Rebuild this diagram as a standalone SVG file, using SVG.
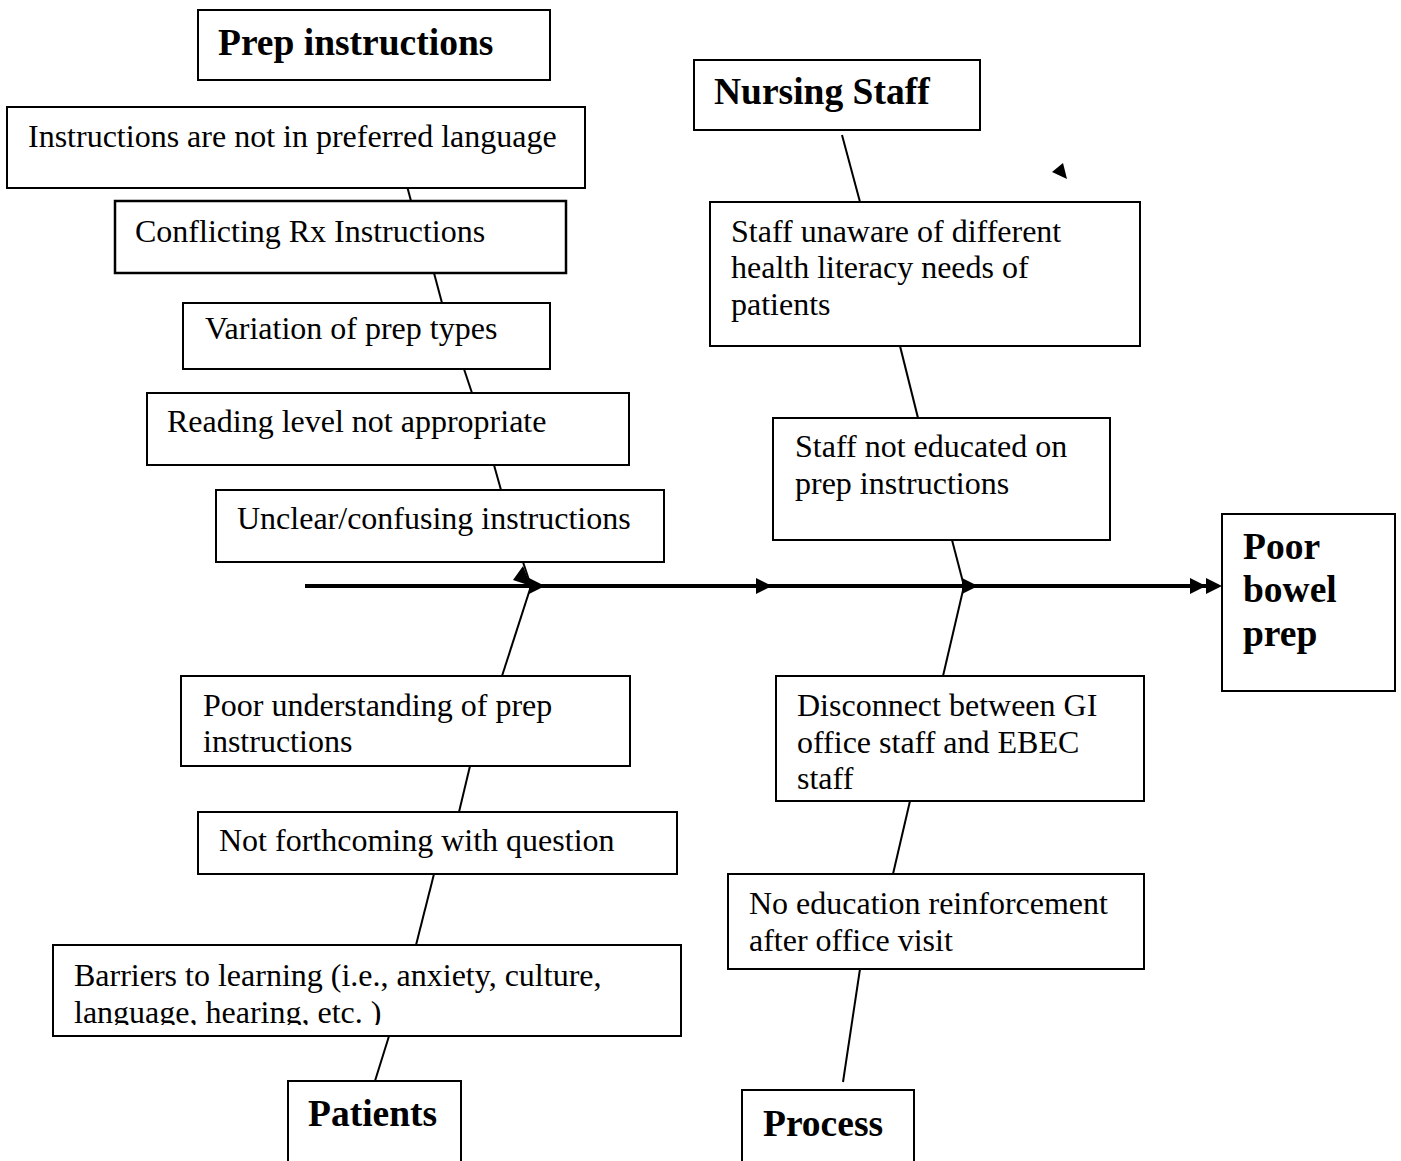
<svg xmlns="http://www.w3.org/2000/svg" width="1401" height="1161" viewBox="0 0 1401 1161">
<style>
.box{fill:#fff;stroke:#000;stroke-width:2}
.t{font-family:"Liberation Serif","Times New Roman",serif;font-size:32px;fill:#000}
.h{font-family:"Liberation Serif","Times New Roman",serif;font-size:37.5px;font-weight:bold;fill:#000}
.ln{stroke:#000;stroke-width:2;fill:none}
.spine{stroke:#000;stroke-width:4;fill:none}
</style>
<defs>
<clipPath id="clipBarriers"><rect x="53" y="945" width="628" height="80"/></clipPath>
</defs>
<rect width="1401" height="1161" fill="#fff"/>
<g id="connectors">
<line class="spine" x1="305" y1="586" x2="1207" y2="586"/>
<polygon points="529,578 545,586 529,594"/>
<polygon points="756,578 772,586 756,594"/>
<polygon points="962,578 978,586 962,594"/>
<polygon points="1190,578 1206,586 1190,594"/>
<polygon points="1206,578 1222,586 1206,594"/>
<line class="ln" x1="407" y1="186" x2="411" y2="201"/>
<line class="ln" x1="434" y1="273" x2="442" y2="303"/>
<line class="ln" x1="464" y1="369" x2="472" y2="393"/>
<line class="ln" x1="494" y1="465" x2="501" y2="490"/>
<line class="ln" x1="523" y1="562" x2="531" y2="586"/>
<polygon points="513,580 523,566 531,586"/>
<line class="ln" x1="531" y1="586" x2="502" y2="676"/>
<line class="ln" x1="470" y1="766" x2="459" y2="812"/>
<line class="ln" x1="434" y1="874" x2="416" y2="945"/>
<line class="ln" x1="389" y1="1036" x2="375" y2="1081"/>
<line class="ln" x1="842" y1="135" x2="860" y2="202"/>
<line class="ln" x1="900" y1="346" x2="918" y2="418"/>
<line class="ln" x1="952" y1="540" x2="964" y2="586"/>
<line class="ln" x1="964" y1="586" x2="943" y2="676"/>
<line class="ln" x1="910" y1="801" x2="893" y2="874"/>
<line class="ln" x1="860" y1="969" x2="843" y2="1082"/>
<polygon points="1052,172 1063,163 1067,179"/>
</g>
<g id="prep-instructions"><rect class="box" x="198" y="10" width="352" height="70"/><text class="h" x="218" y="55">Prep instructions</text></g>
<g id="not-preferred-language"><rect class="box" x="7" y="107" width="578" height="81"/><text class="t" x="28" y="147">Instructions are not in preferred language</text></g>
<g id="conflicting-rx"><rect class="box" x="115" y="201" width="451" height="72" style="stroke-width:2.5"/><text class="t" x="135" y="242">Conflicting Rx Instructions</text></g>
<g id="variation-prep-types"><rect class="box" x="183" y="303" width="367" height="66"/><text class="t" x="205" y="339">Variation of prep types</text></g>
<g id="reading-level"><rect class="box" x="147" y="393" width="482" height="72"/><text class="t" x="167" y="432">Reading level not appropriate</text></g>
<g id="unclear-instructions"><rect class="box" x="216" y="490" width="448" height="72"/><text class="t" x="237" y="529">Unclear/confusing instructions</text></g>
<g id="nursing-staff"><rect class="box" x="694" y="60" width="286" height="70"/><text class="h" x="714" y="104">Nursing Staff</text></g>
<g id="staff-unaware"><rect class="box" x="710" y="202" width="430" height="144"/><text class="t" x="731" y="242">Staff unaware of different</text><text class="t" x="731" y="278">health literacy needs of</text><text class="t" x="731" y="315">patients</text></g>
<g id="staff-not-educated"><rect class="box" x="773" y="418" width="337" height="122"/><text class="t" x="795" y="457">Staff not educated on</text><text class="t" x="795" y="494">prep instructions</text></g>
<g id="poor-bowel-prep"><rect class="box" x="1222" y="514" width="173" height="177"/><text class="h" x="1243" y="559">Poor</text><text class="h" x="1243" y="602">bowel</text><text class="h" x="1243" y="646">prep</text></g>
<g id="poor-understanding"><rect class="box" x="181" y="676" width="449" height="90"/><text class="t" x="203" y="716">Poor understanding of prep</text><text class="t" x="203" y="752">instructions</text></g>
<g id="not-forthcoming"><rect class="box" x="198" y="812" width="479" height="62"/><text class="t" x="219" y="851">Not forthcoming with question</text></g>
<g id="barriers"><rect class="box" x="53" y="945" width="628" height="91"/><g clip-path="url(#clipBarriers)"><text class="t" x="74" y="986">Barriers to learning (i.e., anxiety, culture,</text><text class="t" x="74" y="1023">language, hearing, etc. )</text></g></g>
<g id="patients"><rect class="box" x="288" y="1081" width="173" height="100"/><text class="h" x="308" y="1126">Patients</text></g>
<g id="disconnect"><rect class="box" x="776" y="676" width="368" height="125"/><text class="t" x="797" y="716">Disconnect between GI</text><text class="t" x="797" y="753">office staff and EBEC</text><text class="t" x="797" y="789">staff</text></g>
<g id="no-education"><rect class="box" x="728" y="874" width="416" height="95"/><text class="t" x="749" y="914">No education reinforcement</text><text class="t" x="749" y="951">after office visit</text></g>
<g id="process"><rect class="box" x="742" y="1090" width="172" height="100"/><text class="h" x="763" y="1136">Process</text></g>
</svg>
